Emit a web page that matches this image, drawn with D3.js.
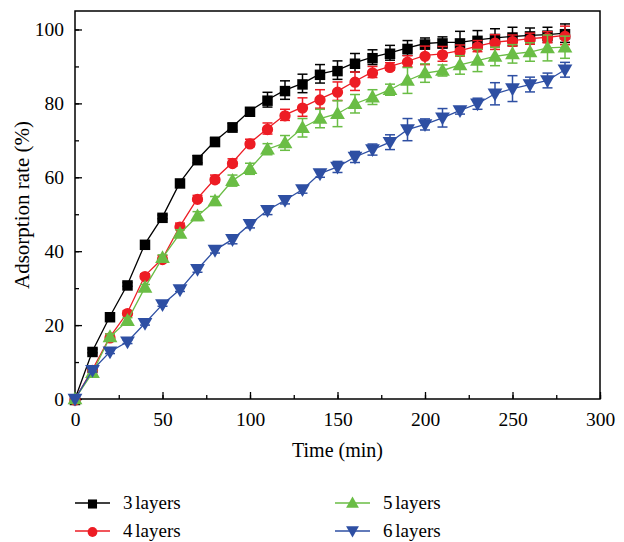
<!DOCTYPE html>
<html>
<head>
<meta charset="utf-8">
<script src="https://cdn.jsdelivr.net/npm/d3@7"></script>
<style>
  body { margin: 0; background: #fff; }
  svg { display: block; font-family: "Liberation Serif", "DejaVu Serif", serif; }
</style>
</head>
<body>
<svg id="chart" width="624" height="542"></svg>
<script>
// time points (min)
const tiempos = [0, 10, 20, 30, 40, 50, 60, 70, 80, 90, 100, 110, 120, 130, 140,
  150, 160, 170, 180, 190, 200, 210, 220, 230, 240, 250, 260, 270, 280];

const capas3 = [0, 13, 22.4, 31, 42, 49.3, 58.6, 64.9, 69.8, 73.7, 78, 81, 83.6, 85.4, 88,
  89, 91, 92.5, 93.7, 95, 96.2, 96.5, 96.5, 97.2, 97.7, 98.1, 98.4, 98.6, 99];
const err3 = [0, 0.5, 0.5, 0.5, 0.5, 0.5, 0.5, 1, 1, 1, 0.8, 2, 2.5, 2.5, 2.5,
  2.5, 2.5, 2, 2, 2, 1.5, 1.5, 3, 2.5, 2.5, 2.5, 2, 2, 2.5];

const capas4 = [0, 8, 16.8, 23.4, 33.4, 38, 46.8, 54.3, 59.6, 64, 69.3, 73.2, 76.9, 79, 81.2,
  83.3, 86, 88.5, 90, 91.4, 93, 93.4, 94.3, 95.5, 96.6, 97, 97.5, 97.9, 98.4];
const err4 = [0, 0.5, 0.8, 0.5, 0.5, 0.8, 0.8, 0.8, 1, 1, 1, 1.5, 1.5, 2.5, 2.5,
  2.5, 2.5, 1.5, 1, 1.5, 2.5, 2, 1.5, 1.5, 2, 1.5, 1.5, 1.5, 2.5];

const capas5 = [0, 7.1, 16.8, 21.2, 30.2, 38.2, 44.8, 49.5, 53.6, 59.1, 62.3, 67.6, 69.3, 73.4, 75.9,
  77.2, 79.9, 81.7, 83.7, 86.2, 88.2, 88.9, 90.4, 91.6, 92.7, 93.4, 93.9, 95, 95.2];
const err5 = [0, 0.5, 0.8, 0.8, 0.8, 0.8, 1, 1.2, 1.2, 1.5, 1.5, 1.5, 2, 2.5, 2.5,
  3.5, 2.5, 2, 1.5, 3.5, 2.5, 1.5, 2.5, 3, 2.5, 2.5, 2.5, 3.5, 3];

const capas6 = [0, 7.8, 12.8, 15.5, 20.5, 25.6, 29.6, 35.1, 40.3, 43.2, 47.3, 51.1, 53.8, 56.7, 61,
  62.8, 65.5, 67.5, 69.5, 72.9, 74.3, 76.1, 78.1, 79.9, 82.6, 84, 85.1, 86.2, 89.1];
const err6 = [0, 0.5, 0.5, 0.5, 0.5, 0.5, 0.5, 0.8, 0.8, 1.2, 1, 1.2, 1, 1, 1,
  1.5, 1.5, 1.5, 2, 3, 1.5, 2.5, 1, 1.5, 3, 3.5, 2, 2, 2];

const xTicks = [0, 50, 100, 150, 200, 250, 300];
const yTicks = [0, 20, 40, 60, 80, 100];

const series = [
  { nombre: "3 layers", valores: capas3, err: err3, color: "#000000", simbolo: d3.symbolSquare, tam: 110, rot: 0 },
  { nombre: "4 layers", valores: capas4, err: err4, color: "#ed1c24", simbolo: d3.symbolCircle, tam: 100, rot: 0 },
  { nombre: "5 layers", valores: capas5, err: err5, color: "#6abd45", simbolo: d3.symbolTriangle, tam: 95, rot: 0 },
  { nombre: "6 layers", valores: capas6, err: err6, color: "#2e4fa3", simbolo: d3.symbolTriangle, tam: 95, rot: 180 }
];

const svg = d3.select("#chart");
const m = { left: 75, right: 600, top: 11, bottom: 399 };

const x = d3.scaleLinear().domain([0, 300]).range([m.left, m.right]);
const y = d3.scaleLinear().domain([0, 105]).range([m.bottom, m.top]);

// frame
svg.append("rect")
  .attr("x", m.left).attr("y", m.top)
  .attr("width", m.right - m.left).attr("height", m.bottom - m.top)
  .attr("fill", "none").attr("stroke", "#000").attr("stroke-width", 1.5);

// axes with inward ticks
const ejeX = svg.append("g").attr("transform", `translate(0,${m.bottom})`);
ejeX.call(d3.axisBottom(x).tickValues(d3.range(0, 301, 25)).tickSize(-4).tickFormat(""))
  .call(g => g.select(".domain").remove());
ejeX.append("g").call(d3.axisBottom(x).tickValues(xTicks).tickSize(-7).tickPadding(13))
  .call(g => g.select(".domain").remove());

const ejeY = svg.append("g").attr("transform", `translate(${m.left},0)`);
ejeY.call(d3.axisLeft(y).tickValues(d3.range(0, 101, 10)).tickSize(-4).tickFormat(""))
  .call(g => g.select(".domain").remove());
ejeY.append("g").call(d3.axisLeft(y).tickValues(yTicks).tickSize(-7).tickPadding(11))
  .call(g => g.select(".domain").remove());

svg.selectAll(".tick line").attr("stroke", "#000").attr("stroke-width", 1.3);
svg.selectAll(".tick text").attr("font-size", 19.5).attr("fill", "#000")
  .attr("font-family", "Liberation Serif, serif");

// axis titles
svg.append("text")
  .attr("x", (m.left + m.right) / 2).attr("y", 457)
  .attr("text-anchor", "middle").attr("font-size", 20)
  .text("Time (min)");

svg.append("text")
  .attr("transform", `translate(29,${(m.top + m.bottom) / 2}) rotate(-90)`)
  .attr("text-anchor", "middle").attr("font-size", 21)
  .text("Adsorption rate (%)");

// series
const linea = d3.line().x((d, i) => x(tiempos[i])).y(d => y(d));

series.forEach(s => {
  const g = svg.append("g");
  g.append("path")
    .datum(s.valores)
    .attr("d", linea)
    .attr("fill", "none").attr("stroke", s.color).attr("stroke-width", 1.3);

  const puntos = s.valores.map((v, i) => ({ t: tiempos[i], v, e: s.err[i] }));

  const barras = g.selectAll(".eb").data(puntos.filter(d => d.e > 0)).join("g");
  barras.append("line")
    .attr("x1", d => x(d.t)).attr("x2", d => x(d.t))
    .attr("y1", d => y(d.v - d.e)).attr("y2", d => y(d.v + d.e))
    .attr("stroke", s.color).attr("stroke-width", 1.5);
  barras.selectAll(".cap").data(d => [d.v - d.e, d.v + d.e].map(val => ({ t: d.t, val }))).join("line")
    .attr("x1", d => x(d.t) - 5).attr("x2", d => x(d.t) + 5)
    .attr("y1", d => y(d.val)).attr("y2", d => y(d.val))
    .attr("stroke", s.color).attr("stroke-width", 1.5);

  g.selectAll(".mk").data(puntos).join("path")
    .attr("d", d3.symbol().type(s.simbolo).size(s.tam))
    .attr("transform", d => `translate(${x(d.t)},${y(d.v) + (s.rot ? -1 : 1)}) rotate(${s.rot})`)
    .attr("fill", s.color);
});

// legend
const leyenda = [
  { s: series[0], lx: 75, ly: 503 },
  { s: series[1], lx: 75, ly: 531 },
  { s: series[2], lx: 335, ly: 503 },
  { s: series[3], lx: 335, ly: 531 }
];
leyenda.forEach(({ s, lx, ly }) => {
  const g = svg.append("g");
  g.append("line").attr("x1", lx).attr("x2", lx + 35).attr("y1", ly).attr("y2", ly)
    .attr("stroke", s.color).attr("stroke-width", 1.3);
  g.append("path")
    .attr("d", d3.symbol().type(s.simbolo).size(s.tam * 0.75))
    .attr("transform", `translate(${lx + 17.5},${ly + (s.rot ? -1 : 1)}) rotate(${s.rot})`)
    .attr("fill", s.color);
  g.append("text").attr("x", lx + 48).attr("y", ly + 6)
    .attr("font-size", 19).attr("word-spacing", -2).text(s.nombre);
});
</script>
</body>
</html>
